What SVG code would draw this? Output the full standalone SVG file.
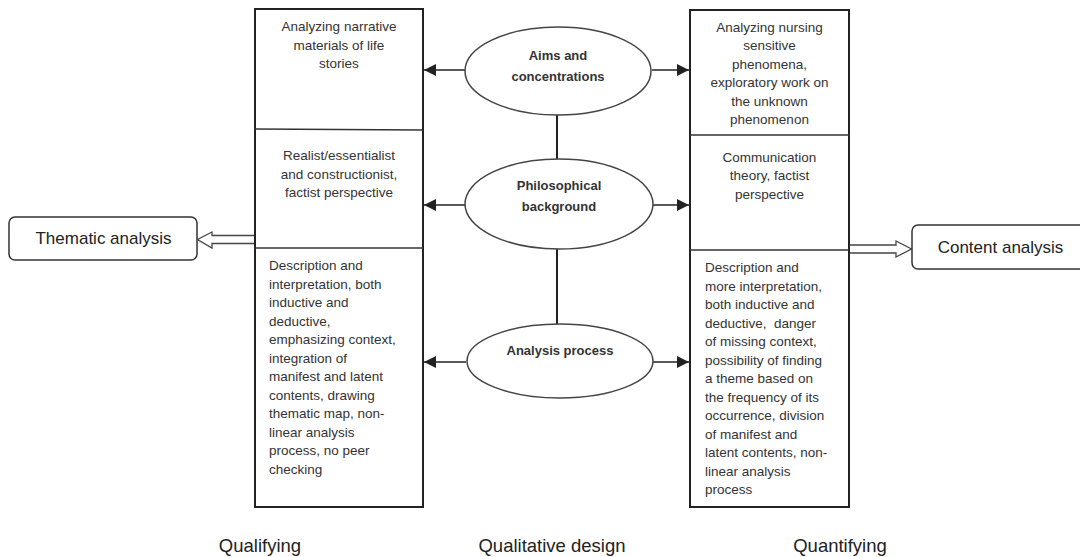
<svg xmlns="http://www.w3.org/2000/svg" width="1080" height="557" viewBox="0 0 1080 557">
<style>
.box{fill:#fff;stroke:#222;stroke-width:2}
.div{stroke:#333;stroke-width:1.3;fill:none}
.ell{fill:#fff;stroke:#444;stroke-width:1.5}
.line{stroke:#222;stroke-width:2;fill:none}
.conn{stroke:#222;stroke-width:1.6;fill:none}
.hollow{fill:#fff;stroke:#444;stroke-width:1.3;stroke-linejoin:miter}
.rbox{fill:#fff;stroke:#333;stroke-width:1.5}
.t{font-family:"Liberation Sans",Arial,sans-serif;font-size:13.5px;fill:#333}
.c{text-anchor:middle}
.b{font-family:"Liberation Sans",Arial,sans-serif;font-size:13px;font-weight:bold;fill:#333;text-anchor:middle}
.big{font-family:"Liberation Sans",Arial,sans-serif;font-size:17px;fill:#222;text-anchor:middle}
.lab{font-family:"Liberation Sans",Arial,sans-serif;font-size:18.5px;fill:#222;text-anchor:middle}
</style>
<defs>
<marker id="ah" viewBox="0 0 10 10" refX="10" refY="5" markerWidth="12" markerHeight="12" markerUnits="userSpaceOnUse" orient="auto">
<path d="M0,0 L10,5 L0,10 z" fill="#222"/>
</marker>
</defs>
<rect width="1080" height="557" fill="#fff"/>

<g id="connectors">
<line class="line" x1="557" y1="115" x2="557" y2="160"/>
<line class="line" x1="557" y1="248" x2="557" y2="325"/>
<line class="conn" x1="465" y1="70" x2="424" y2="70" marker-end="url(#ah)"/>
<line class="conn" x1="652" y1="70" x2="689" y2="70" marker-end="url(#ah)"/>
<line class="conn" x1="465" y1="205" x2="424" y2="205" marker-end="url(#ah)"/>
<line class="conn" x1="652" y1="205" x2="689" y2="205" marker-end="url(#ah)"/>
<line class="conn" x1="466" y1="362" x2="424" y2="362" marker-end="url(#ah)"/>
<line class="conn" x1="653" y1="362" x2="689" y2="362" marker-end="url(#ah)"/>
<path class="hollow" d="M255,235.5 L212,235.5 L212,232 L197.5,239.5 L212,248 L212,243.5 L255,243.5"/>
<path class="hollow" d="M849,245 L896,245 L896,241 L911.5,249 L896,257 L896,253 L849,253"/>
</g>

<g id="left-box">
<rect class="box" x="255" y="9" width="168" height="498"/>
<line class="div" x1="255" y1="129" x2="423" y2="130"/>
<line class="div" x1="255" y1="248" x2="423" y2="248"/>
<text class="t c" x="339" y="31">Analyzing narrative</text>
<text class="t c" x="339" y="49.5">materials of life</text>
<text class="t c" x="339" y="68">stories</text>
<text class="t c" x="339" y="160">Realist/essentialist</text>
<text class="t c" x="339" y="178.5">and constructionist,</text>
<text class="t c" x="339" y="197">factist perspective</text>
<text class="t" x="269" y="270">Description and</text>
<text class="t" x="269" y="288.5">interpretation, both</text>
<text class="t" x="269" y="307">inductive and</text>
<text class="t" x="269" y="325.5">deductive,</text>
<text class="t" x="269" y="344">emphasizing context,</text>
<text class="t" x="269" y="362.5">integration of</text>
<text class="t" x="269" y="381">manifest and latent</text>
<text class="t" x="269" y="399.5">contents, drawing</text>
<text class="t" x="269" y="418">thematic map, non-</text>
<text class="t" x="269" y="436.5">linear analysis</text>
<text class="t" x="269" y="455">process, no peer</text>
<text class="t" x="269" y="473.5">checking</text>
</g>

<g id="right-box">
<rect class="box" x="690" y="10" width="159" height="497"/>
<line class="div" x1="690" y1="135" x2="849" y2="135"/>
<line class="div" x1="690" y1="250" x2="849" y2="250"/>
<text class="t c" x="769.5" y="31.5">Analyzing nursing</text>
<text class="t c" x="769.5" y="50">sensitive</text>
<text class="t c" x="769.5" y="68.5">phenomena,</text>
<text class="t c" x="769.5" y="87">exploratory work on</text>
<text class="t c" x="769.5" y="105.5">the unknown</text>
<text class="t c" x="769.5" y="124">phenomenon</text>
<text class="t c" x="769.5" y="161.5">Communication</text>
<text class="t c" x="769.5" y="180">theory, factist</text>
<text class="t c" x="769.5" y="198.5">perspective</text>
<text class="t" x="705" y="272">Description and</text>
<text class="t" x="705" y="290.5">more interpretation,</text>
<text class="t" x="705" y="309">both inductive and</text>
<text class="t" x="705" y="327.5" xml:space="preserve">deductive,  danger</text>
<text class="t" x="705" y="346">of missing context,</text>
<text class="t" x="705" y="364.5">possibility of finding</text>
<text class="t" x="705" y="383">a theme based on</text>
<text class="t" x="705" y="401.5">the frequency of its</text>
<text class="t" x="705" y="420">occurrence, division</text>
<text class="t" x="705" y="438.5">of manifest and</text>
<text class="t" x="705" y="457">latent contents, non-</text>
<text class="t" x="705" y="475.5">linear analysis</text>
<text class="t" x="705" y="494">process</text>
</g>

<g id="aims">
<ellipse class="ell" cx="558" cy="71" rx="93" ry="44"/>
<text class="b" x="558" y="60">Aims and</text>
<text class="b" x="558" y="81">concentrations</text>
</g>

<g id="philosophical">
<ellipse class="ell" cx="559" cy="204" rx="94" ry="45"/>
<text class="b" x="559" y="190">Philosophical</text>
<text class="b" x="559" y="211">background</text>
</g>

<g id="analysis-process">
<ellipse class="ell" cx="560" cy="361" rx="93" ry="37"/>
<text class="b" x="560" y="355">Analysis process</text>
</g>

<g id="thematic">
<rect class="rbox" x="9" y="217" width="188" height="43" rx="6"/>
<text class="big" x="103.5" y="244">Thematic analysis</text>
</g>

<g id="content">
<rect class="rbox" x="912" y="225" width="180" height="44" rx="6"/>
<text class="big" x="1000.5" y="252.5">Content analysis</text>
</g>

<g id="labels">
<text class="lab" x="260" y="552">Qualifying</text>
<text class="lab" x="552" y="552">Qualitative design</text>
<text class="lab" x="840" y="552">Quantifying</text>
</g>
</svg>
